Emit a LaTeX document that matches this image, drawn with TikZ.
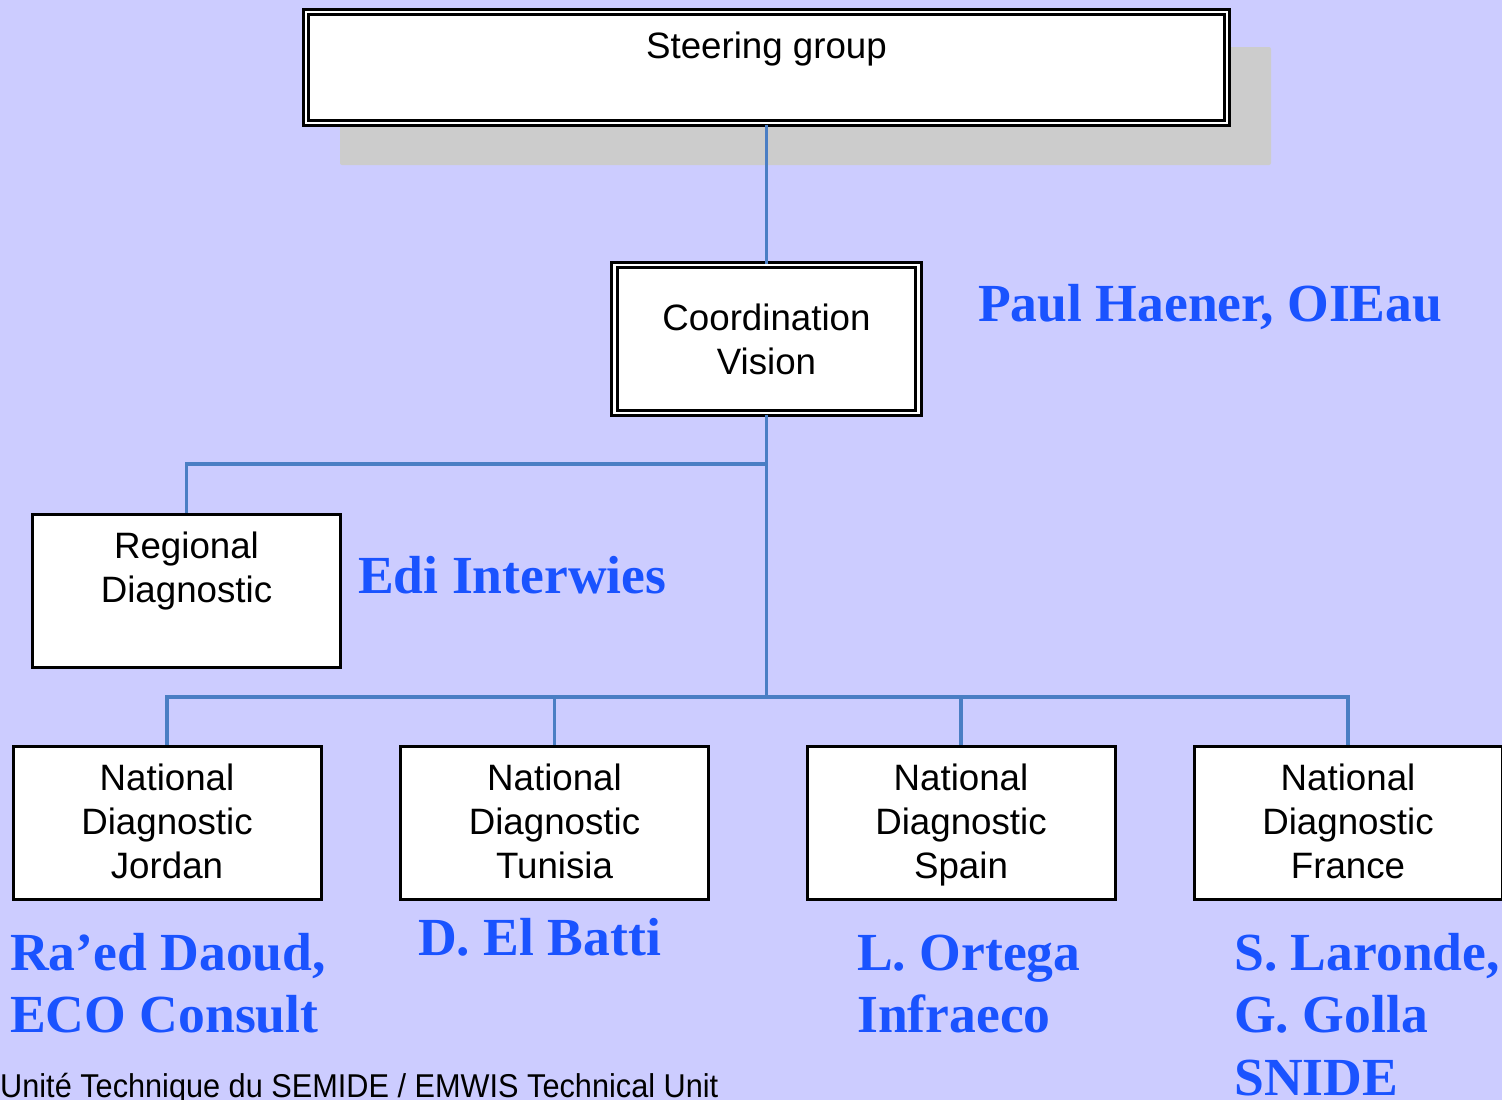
\documentclass[tikz,border=0pt]{standalone}
\usepackage{fontspec}
\setmainfont{Liberation Sans}
\newfontfamily\serifbold{Liberation Serif}
\usetikzlibrary{calc}
\definecolor{bg}{HTML}{CCCCFF}
\definecolor{shadowgray}{HTML}{CCCCCC}
\definecolor{conn}{HTML}{4A7EC4}
\definecolor{nameblue}{HTML}{1A53FF}
\tikzset{
  boxtext/.style={font=\fontsize{36.7}{44}\selectfont, align=center, inner sep=0pt},
  dblbox/.style={draw=black, fill=white, line width=3pt, double=white, double distance=2.5pt, inner sep=0pt},
  sglbox/.style={draw=black, fill=white, line width=3pt, inner sep=0pt, minimum width=308pt, minimum height=153pt},
  conline/.style={draw=conn, line width=3.5pt},
  person/.style={font=\fontsize{53.6}{62.5}\selectfont\serifbold\bfseries, text=nameblue, align=left, inner sep=0pt, anchor=base west},
}
\begin{document}
\begin{tikzpicture}[x=1pt,y=-1pt]
\path[use as bounding box, clip] (0,0) rectangle (1502,1100);
\fill[bg] (0,0) rectangle (1502,1100);
% shadow
\fill[shadowgray, rounded corners=2pt] (340,47) rectangle (1271,165);
% steering group
\node[dblbox, minimum width=921pt, minimum height=111pt] (steer) at (766.5,67.5) {};
\node[boxtext, anchor=base] (steertxt) at (766.5,58) {Steering group};
% coordination
\node[dblbox, minimum width=304pt, minimum height=148pt] (coord) at (766.5,339) {};
\node[boxtext] (coordtxt) at (766.5,339) {Coordination\\Vision};
% regional
\node[sglbox] (regional) at (186.5,590.5) {};
\node[boxtext, anchor=base] (regtxt) at (186.5,602) {Regional\\Diagnostic};
% national boxes
\node[sglbox] (nj) at (167,822.5) {};
\node[boxtext, anchor=base] (njt) at (167,878) {National\\Diagnostic\\Jordan};
\node[sglbox] (nt) at (554.5,822.5) {};
\node[boxtext, anchor=base] (ntt) at (554.5,878) {National\\Diagnostic\\Tunisia};
\node[sglbox] (ns) at (961,822.5) {};
\node[boxtext, anchor=base] (nst) at (961,878) {National\\Diagnostic\\Spain};
\node[sglbox] (nf) at (1348,822.5) {};
\node[boxtext, anchor=base] (nft) at (1348,878) {National\\Diagnostic\\France};
% connectors
\coordinate (rj) at (766.5,464);
\coordinate (bus) at (766.5,697);
\draw[conline] (steer.south) -- (coord.north);
\draw[conline] (coord.south) -- (bus);
\draw[conline] (rj) -| (regional.north);
\draw[conline] (nj.north) |- (bus);
\draw[conline] (bus) -| (nf.north);
\draw[conline] (nt.north) -- (nt.north |- bus);
\draw[conline] (ns.north) -- (ns.north |- bus);
% names (base = baseline of last line)
\node[person] (p1) at (978,321) {Paul Haener, OIEau};
\node[person] (p2) at (358,593) {Edi Interwies};
\node[person] (p3) at (10,1032.5) {Ra’ed Daoud,\\ECO Consult};
\node[person] (p4) at (418,955) {D. El Batti};
\node[person] (p5) at (857,1032.5) {L. Ortega\\Infraeco};
\node[person] (p6) at (1234,1095) {S. Laronde,\\G. Golla\\SNIDE};
% footer
\node[anchor=base west, inner sep=0pt, font=\fontsize{33}{33}\selectfont] (foot) at (0,1097) {\scalebox{0.93}[1]{Unité Technique du SEMIDE / EMWIS Technical Unit}};
\end{tikzpicture}
\end{document}
